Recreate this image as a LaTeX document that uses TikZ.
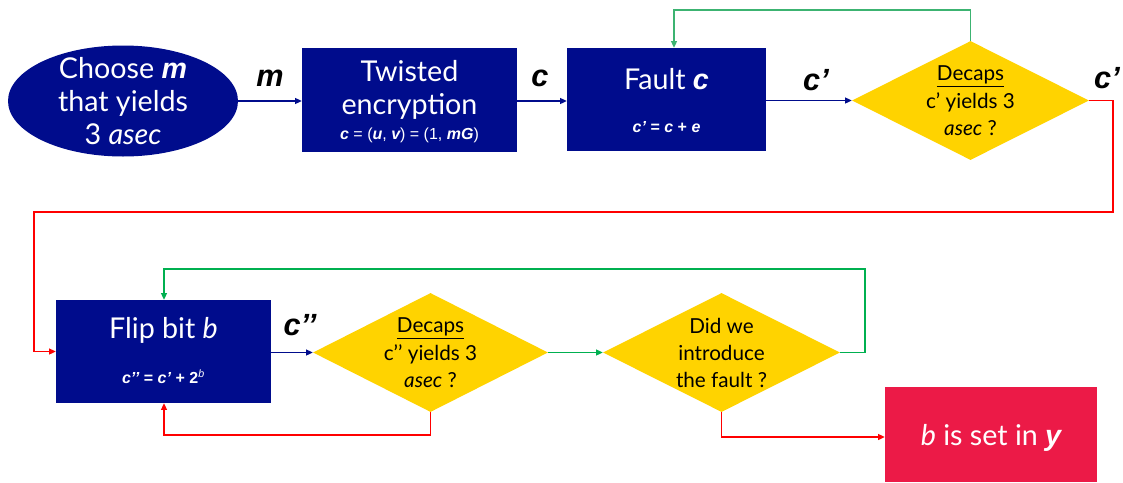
\documentclass[tikz,border=0pt]{standalone}
\usepackage{fontspec}
\setmainfont{Lato}
\newfontfamily\arialf{Liberation Sans}
\usetikzlibrary{shapes.geometric,arrows.meta}
\definecolor{navy}{RGB}{0,12,140}
\definecolor{gold}{RGB}{255,211,0}
\definecolor{crim}{RGB}{236,26,71}
\definecolor{lgreen}{RGB}{60,179,113}
\definecolor{dgreen}{RGB}{0,176,80}
\definecolor{lred}{RGB}{255,0,0}
\newcommand{\bi}[1]{{\arialf\bfseries\itshape #1}}
\begin{document}
\begin{tikzpicture}[x=0.75pt,y=-0.75pt,
  bluebox/.style={draw=none,fill=navy,text=white,inner sep=0pt,align=center},
  dia/.style={diamond,fill=gold,draw=none,inner sep=0pt,aspect=2},
  bigtxt/.style={font=\fontsize{21.5}{25}\selectfont},
  diatxt/.style={font=\fontsize{15.5}{20}\selectfont,align=center,inner sep=0pt},
  smalltxt/.style={font=\arialf\fontsize{12}{14}\selectfont,text=white,inner sep=0pt},
  lbl/.style={font=\arialf\bfseries\itshape\fontsize{23}{26}\selectfont,inner sep=0pt},
  tip/.style={-{Triangle[length=5pt,width=4.5pt]}},
  bluel/.style={navy,line width=0.9pt,tip},
  redl/.style={lred,line width=0.9pt,tip},
  greenl/.style={dgreen,line width=0.9pt,tip},
  lgreenl/.style={lgreen,line width=0.9pt,tip}]
\useasboundingbox[fill=white] (0,0) rectangle (1123,482);
% nodes
\node[ellipse,fill=navy,text=white,minimum width=172.5pt,minimum height=83.25pt,inner sep=0pt,align=center,bigtxt] (ch) at (123,101) {};
\node[text=white,align=center,bigtxt,inner sep=0pt] (cht) at (123,101) {Choose \bi{m}\\that yields\\3 \textit{asec}};
\node[bluebox,minimum width=161.25pt,minimum height=78pt] (te) at (409.5,100) {};
\node[text=white,align=center,bigtxt,inner sep=0pt] (tet) at (409.5,90) {Twisted\\encryption};
\node[smalltxt] (tef) at (409.5,135) {\bi{c} = (\bi{u}, \bi{v}) = (1, \bi{mG})};
\node[bluebox,minimum width=149.25pt,minimum height=77.25pt] (fc) at (666.5,99.5) {};
\node[text=white,bigtxt,inner sep=0pt] (fct) at (666.5,79) {Fault \bi{c}};
\node[smalltxt] (fcf) at (666.5,127) {\bi{c’} \textbf{=} \bi{c} \textbf{+} \bi{e}};
\node[dia,minimum width=177.75pt,minimum height=89.25pt] (d1) at (970.5,100.5) {};
\node[diatxt] (d1t) at (970.5,101) {\underline{Decaps}\\[1pt]c’ yields 3\\\textit{asec} ?};
\node[bluebox,minimum width=161.25pt,minimum height=77.25pt] (fb) at (163.5,351.5) {};
\node[text=white,bigtxt,inner sep=0pt] (fbt) at (163.5,330) {Flip bit \textit{b}};
\node[smalltxt] (fbf) at (163.5,377) {\bi{c’’} \textbf{=} \bi{c’} \textbf{+} {\arialf\bfseries 2}\textsuperscript{\textit{b}}};
\node[dia,minimum width=176.25pt,minimum height=89.25pt] (d2) at (430.5,352.5) {};
\node[diatxt] (d2t) at (430.5,353) {\underline{Decaps}\\[1pt]c’’ yields 3\\\textit{asec} ?};
\node[dia,minimum width=177.75pt,minimum height=89.25pt] (d3) at (721.5,352.5) {};
\node[diatxt] (d3t) at (721.5,353) {Did we\\introduce\\the fault ?};
\node[fill=crim,minimum width=159pt,minimum height=71.25pt,inner sep=0pt] (by) at (991,434.5) {};
\node[text=white,bigtxt,inner sep=0pt] (byt) at (991,438) {\textit{b} is set in \bi{y}};
% labels
\node[lbl] (lm) at (270,78) {m};
\node[lbl] (lc) at (540,78) {c};
\node[lbl] (lc1) at (816,80) {c’};
\node[lbl] (lc2) at (1107,78) {c’};
\node[lbl] (lc3) at (300,325) {c’’};
% connectors
\draw[bluel] (ch.east) -- (te.west |- ch.east);
\draw[bluel] (te.east |- 0,101) -- (fc.west |- 0,101);
\draw[bluel] (fc.east |- d1.west) -- (d1.west);
\draw[bluel] (fb.east |- d2.west) -- (d2.west);
\coordinate (g1) at (674,10);
\draw[lgreenl] (d1.north) |- (g1) -- (g1 |- fc.north);
\coordinate (r1) at (1113,212);
\coordinate (r2) at (34,212);
\draw[redl] (d1.east) -| (r1) -- (r2) |- (fb.west);
\coordinate (r3) at (164,435);
\draw[redl] (d2.south) |- (r3) -- (r3 |- fb.south);
\draw[greenl] (d2.east) -- (d3.west);
\coordinate (g2) at (865,269);
\coordinate (g3) at (164,269);
\draw[greenl] (d3.east) -| (g2) -- (g3) -- (g3 |- fb.north);
\draw[redl] (d3.south) |- (by.west |- 0,437);
\end{tikzpicture}
\end{document}
